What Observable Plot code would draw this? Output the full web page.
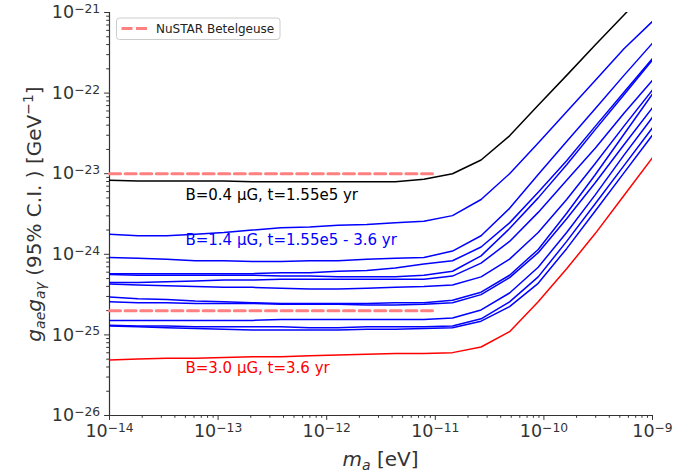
<!DOCTYPE html>
<html>
<head>
<meta charset="utf-8">
<script src="https://cdn.jsdelivr.net/npm/d3@7"></script>
<script src="https://cdn.jsdelivr.net/npm/@observablehq/plot@0.6"></script>
<style>
  html, body { margin: 0; padding: 0; background: #fff; }
  #chart { width: 697px; height: 475px; }
</style>
</head>
<body>
<div id="chart"></div>
<script>
// axion mass m_a [eV]
const masses = [1.00e-14, 1.83e-14, 3.36e-14, 6.16e-14, 1.13e-13, 2.07e-13, 3.79e-13, 6.95e-13,
  1.27e-12, 2.34e-12, 4.28e-12, 7.85e-12, 1.44e-11, 2.64e-11, 4.83e-11, 8.86e-11,
  1.62e-10, 2.98e-10, 5.46e-10, 1.00e-9];

// log10 of g_ae*g_a-gamma (95% C.I.) [GeV^-1]
const black04 = [-23.08, -23.09, -23.09, -23.09, -23.09, -23.10, -23.10, -23.10, -23.10, -23.10, -23.10, -23.07, -23.00, -22.83, -22.53, -22.15, -21.78, -21.40, -21.03, -20.67];

const blue1 = [-23.75, -23.77, -23.77, -23.75, -23.73, -23.70, -23.67, -23.66, -23.64, -23.63, -23.61, -23.59, -23.52, -23.32, -23.00, -22.62, -22.23, -21.84, -21.45, -21.11];
const blue2 = [-24.04, -24.05, -24.06, -24.08, -24.08, -24.09, -24.09, -24.08, -24.08, -24.06, -24.05, -24.04, -23.96, -23.77, -23.43, -23.01, -22.60, -22.19, -21.78, -21.38];
const blue3 = [-24.24, -24.24, -24.24, -24.24, -24.24, -24.24, -24.23, -24.23, -24.21, -24.20, -24.17, -24.12, -24.08, -23.91, -23.61, -23.23, -22.84, -22.41, -21.99, -21.57];
const blue4 = [-24.25, -24.26, -24.26, -24.26, -24.26, -24.26, -24.27, -24.27, -24.28, -24.28, -24.28, -24.26, -24.21, -24.02, -23.68, -23.30, -22.89, -22.45, -22.02, -21.59];
const blue5 = [-24.35, -24.35, -24.34, -24.33, -24.32, -24.32, -24.31, -24.31, -24.31, -24.31, -24.31, -24.31, -24.27, -24.11, -23.84, -23.48, -23.08, -22.68, -22.25, -21.84];
const blue6 = [-24.37, -24.38, -24.39, -24.40, -24.41, -24.41, -24.42, -24.43, -24.43, -24.42, -24.41, -24.40, -24.38, -24.28, -24.06, -23.73, -23.32, -22.87, -22.41, -21.96];
const blue7 = [-24.53, -24.55, -24.56, -24.58, -24.59, -24.60, -24.61, -24.61, -24.61, -24.61, -24.60, -24.60, -24.57, -24.47, -24.26, -23.94, -23.49, -23.01, -22.51, -22.01];
const blue8 = [-24.59, -24.60, -24.60, -24.61, -24.61, -24.61, -24.62, -24.62, -24.62, -24.63, -24.63, -24.62, -24.60, -24.50, -24.29, -23.98, -23.56, -23.11, -22.64, -22.18];
const blue9 = [-24.82, -24.82, -24.82, -24.82, -24.82, -24.82, -24.81, -24.81, -24.81, -24.81, -24.81, -24.81, -24.79, -24.69, -24.48, -24.16, -23.73, -23.26, -22.77, -22.30];
const blue10 = [-24.88, -24.89, -24.89, -24.90, -24.90, -24.90, -24.90, -24.91, -24.91, -24.90, -24.90, -24.90, -24.89, -24.80, -24.59, -24.28, -23.84, -23.37, -22.90, -22.43];
const blue11 = [-24.89, -24.90, -24.91, -24.92, -24.93, -24.94, -24.94, -24.94, -24.94, -24.93, -24.93, -24.92, -24.91, -24.83, -24.65, -24.36, -23.93, -23.46, -22.99, -22.52];

const red30 = [-25.31, -25.30, -25.29, -25.29, -25.28, -25.27, -25.27, -25.26, -25.25, -25.24, -25.23, -25.23, -25.22, -25.15, -24.96, -24.59, -24.18, -23.74, -23.27, -22.80];

// NuSTAR Betelgeuse limits
const nustarMass = [1e-14, 1e-11];
const nustarLevels = [1e-23, 2e-25];
const legendLabel = "NuSTAR Betelgeuse";

// annotations
const noteText = ["B=0.4 μG, t=1.55e5 yr", "B=1.4 μG, t=1.55e5 - 3.6 yr", "B=3.0 μG, t=3.6 yr"];
const noteMass = [5e-14, 5e-14, 5e-14];
const noteG = [4.74e-24, 1.31e-24, 3.35e-26];
const noteColor = ["#000000", "#0000ff", "#ff0000"];

// ticks
const xMajor = [1e-14, 1e-13, 1e-12, 1e-11, 1e-10, 1e-9];
const yMajor = [1e-26, 1e-25, 1e-24, 1e-23, 1e-22, 1e-21];

// ---- build tables ----
const toRows = (vals, name) => masses.map((m, i) => ({m, g: Math.pow(10, vals[i]), name}));
const blackRows = toRows(black04, "black");
const blueSeries = [blue1, blue2, blue3, blue4, blue5, blue6, blue7, blue8, blue9, blue10, blue11];
const blueRows = blueSeries.flatMap((s, k) => toRows(s, "blue" + (k + 1)));
const redRows = toRows(red30, "red");
const nustarRows = nustarLevels.flatMap((g, k) => nustarMass.map(m => ({m, g, name: "n" + k})));
const notes = noteText.map((t, i) => ({t, m: noteMass[i], g: noteG[i], c: noteColor[i]}));

const xMinor = d3.scaleLog().domain([1e-14, 1e-9]).ticks().filter(v => !xMajor.some(M => Math.abs(v / M - 1) < 1e-6));
const yMinor = d3.scaleLog().domain([1e-26, 1e-21]).ticks().filter(v => !yMajor.some(M => Math.abs(v / M - 1) < 1e-6));
const expFmt = d => "10^" + Math.round(Math.log10(d));

const axisColor = "#333";
const svg = Plot.plot({
  width: 697,
  height: 475,
  marginLeft: 109,
  marginRight: 45,
  marginTop: 12,
  marginBottom: 60,
  style: {fontFamily: "DejaVu Sans", fontSize: "17.5px", color: axisColor, background: "#fff", overflow: "visible"},
  x: {type: "log", domain: [1e-14, 1e-9], label: null},
  y: {type: "log", domain: [1e-26, 1e-21], label: null},
  marks: [
    Plot.axisX(xMinor, {tickSize: 2.8, tickFormat: () => "", label: null}),
    Plot.axisY(yMinor, {tickSize: 2.8, tickFormat: () => "", label: null}),
    Plot.axisX(xMajor, {tickSize: 4.9, tickPadding: 4.5, tickFormat: expFmt, label: null, fontSize: 17.5}),
    Plot.axisY(yMajor, {tickSize: 4.9, tickPadding: 4.5, tickFormat: expFmt, label: null, fontSize: 17.5}),
    Plot.ruleX([1e-14], {stroke: axisColor, strokeWidth: 1.2}),
    Plot.ruleY([1e-26], {stroke: axisColor, strokeWidth: 1.2}),
    Plot.line(blackRows, {x: "m", y: "g", stroke: "#000000", strokeWidth: 1.5, clip: true}),
    Plot.line(blueRows, {x: "m", y: "g", z: "name", stroke: "#0000ff", strokeWidth: 1.5, clip: true}),
    Plot.line(redRows, {x: "m", y: "g", stroke: "#ff0000", strokeWidth: 1.5, clip: true}),
    Plot.line(nustarRows, {x: "m", y: "g", z: "name", stroke: "#ff8080", strokeWidth: 3, strokeDasharray: "11,4.6"}),
    Plot.text(notes, {x: "m", y: "g", text: "t", fill: "c", textAnchor: "start", lineAnchor: "bottom", fontSize: 15})
  ]
});
document.getElementById("chart").appendChild(svg);

const S = d3.select(svg);
// superscript exponents on tick labels
S.selectAll("text").each(function () {
  const el = d3.select(this);
  const txt = el.text();
  const m = /^10\^(-?\d+)$/.exec(txt);
  if (!m) return;
  el.text("");
  el.append("tspan").text("10");
  el.append("tspan").attr("font-size", "12.3px").attr("dy", "-0.42em").text(m[1].replace("-", "\u2212"));
});

// axis titles
const ax = S.append("text")
  .attr("x", 380.5).attr("y", 466)
  .attr("text-anchor", "middle")
  .attr("font-size", "20px").attr("fill", axisColor);
ax.append("tspan").attr("font-style", "italic").text("m");
ax.append("tspan").attr("font-style", "italic").attr("font-size", "14px").attr("dy", "4").text("a");
ax.append("tspan").attr("dy", "-4").text(" [eV]");

const ay = S.append("text")
  .attr("transform", "translate(41,214) rotate(-90)")
  .attr("text-anchor", "middle")
  .attr("font-size", "20px").attr("fill", axisColor);
ay.append("tspan").attr("font-style", "italic").text("g");
ay.append("tspan").attr("font-style", "italic").attr("font-size", "14px").attr("dy", "4").text("ae");
ay.append("tspan").attr("font-style", "italic").attr("dy", "-4").text("g");
ay.append("tspan").attr("font-style", "italic").attr("font-size", "14px").attr("dy", "4").text("aγ");
ay.append("tspan").attr("dy", "-4").text(" (95% C.I. ) [GeV");
ay.append("tspan").attr("font-size", "14px").attr("dy", "-8").text("\u22121");
ay.append("tspan").attr("dy", "8").text("]");

// legend
const lg = S.append("g");
lg.append("rect").attr("x", 116.5).attr("y", 18).attr("width", 163.5).attr("height", 21.5)
  .attr("rx", 3).attr("fill", "#fff").attr("fill-opacity", 0.8).attr("stroke", "#cccccc");
lg.append("line").attr("x1", 121.5).attr("x2", 147).attr("y1", 28.5).attr("y2", 28.5)
  .attr("stroke", "#ff8080").attr("stroke-width", 3).attr("stroke-dasharray", "11,3.5");
lg.append("text").attr("x", 156).attr("y", 28.5).attr("dy", "0.35em")
  .attr("text-anchor", "start")
  .attr("font-size", "12px").attr("fill", "#222").text(legendLabel);
</script>
</body>
</html>
